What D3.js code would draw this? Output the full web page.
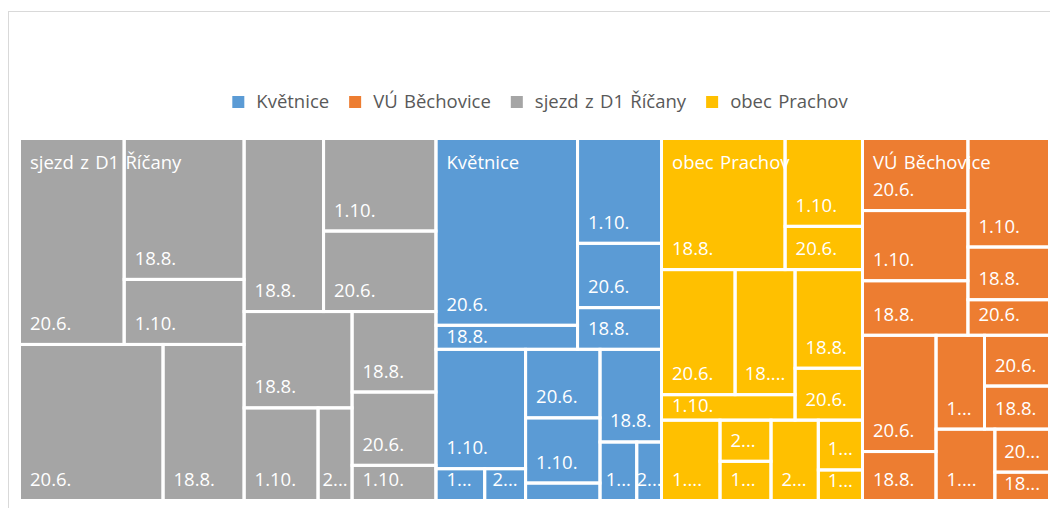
<!DOCTYPE html>
<html>
<head>
<meta charset="utf-8">
<script src="https://cdn.jsdelivr.net/npm/d3@7"></script>
<style>
  body { margin: 0; background: #fff; }
  svg { display: block; font-family: "Open Sans", "Noto Sans", sans-serif; }
</style>
</head>
<body>
<svg id="chart" width="1050" height="508"></svg>
<script>
// Sampling sites (top level of the treemap) and their colours
const locations = ["sjezd z D1 Říčany", "Květnice", "obec Prachov", "VÚ Běchovice"];
const locationColors = ["#A5A5A5", "#5B9BD5", "#FFC000", "#ED7D31"];
const legendItems = ["Květnice", "VÚ Běchovice", "sjezd z D1 Říčany", "obec Prachov"];

// Records per site: [taxon, sampling date, count]
const ricany = [
  ["druh 1", "20.6.", 431], ["druh 1", "18.8.", 338], ["druh 1", "1.10.", 156],
  ["druh 2", "20.6.", 448], ["druh 2", "18.8.", 253],
  ["druh 3", "18.8.", 275], ["druh 3", "1.10.", 208], ["druh 3", "20.6.", 181],
  ["druh 4", "18.8.", 208], ["druh 4", "1.10.", 137], ["druh 4", "20.6.", 63],
  ["druh 5", "18.8.", 135], ["druh 5", "20.6.", 123], ["druh 5", "1.10.", 59]
];
const kvetnice = [
  ["druh 1", "20.6.", 529], ["druh 1", "18.8.", 68],
  ["druh 2", "1.10.", 176], ["druh 2", "20.6.", 108], ["druh 2", "18.8.", 70],
  ["druh 3", "1.10.", 214], ["druh 3", "18.8.", 31], ["druh 3", "20.6.", 26],
  ["druh 4", "20.6.", 102], ["druh 4", "1.10.", 97], ["druh 4", "18.8.", 26],
  ["druh 5", "18.8.", 114], ["druh 5", "1.10.", 43], ["druh 5", "20.6.", 29]
];
const prachov = [
  ["druh 1", "18.8.", 324], ["druh 1", "1.10.", 136], ["druh 1", "20.6.", 67],
  ["druh 2", "20.6.", 184], ["druh 2", "18.8.", 150], ["druh 2", "1.10.", 68],
  ["druh 3", "18.8.", 133], ["druh 3", "20.6.", 70],
  ["druh 4", "1.10.", 94], ["druh 4", "20.6.", 42], ["druh 4", "18.8.", 40],
  ["druh 5", "20.6.", 76], ["druh 5", "18.8.", 44], ["druh 5", "1.10.", 27]
];
const bechovice = [
  ["druh 1", "20.6.", 152], ["druh 1", "1.10.", 148], ["druh 1", "18.8.", 115],
  ["druh 2", "1.10.", 177], ["druh 2", "18.8.", 86], ["druh 2", "20.6.", 58],
  ["druh 3", "20.6.", 171], ["druh 3", "18.8.", 72],
  ["druh 4", "1.10.", 91], ["druh 4", "20.6.", 66], ["druh 4", "18.8.", 56],
  ["druh 5", "1.10.", 84], ["druh 5", "20.6.", 47], ["druh 5", "18.8.", 31]
];
const siteRecords = [ricany, kvetnice, prachov, bechovice];

// ---- layout constants ----
const W = 1050, H = 508;
const area = { x: 19.5, y: 138.5, w: 1030, h: 362 };
const GAP = 3;
const FONT = 18.5;
const TARGET_RATIO = 0.79;   // preferred width/height of a tile
const LABEL_PAD = 16.2;      // horizontal room kept around a full date label
const CUT_ROOM = 30.25;      // room kept for the ellipsis when a label is shortened

const svg = d3.select("#chart");

// chart frame
svg.append("rect")
  .attr("x", 8.5).attr("y", 11.5).attr("width", W + 20).attr("height", H + 20)
  .attr("fill", "#fff").attr("stroke", "#D9D9D9").attr("stroke-width", 1);

// ---- hierarchy ----
const rootData = {
  name: "root",
  children: locations.map((loc, i) => ({
    name: loc,
    color: locationColors[i],
    children: Array.from(d3.group(siteRecords[i], r => r[0]), ([taxon, rows]) => ({
      name: taxon,
      children: rows.map(r => ({ name: r[1], value: r[2] }))
    }))
  }))
};

// Squarified tiling that aims for a fixed width/height ratio for every tile;
// rows run along the shorter side of the remaining rectangle.
function tileSquarifiedTarget(parent, x0, y0, x1, y1) {
  const nodes = parent.children;
  let value = parent.value, i0 = 0;
  while (i0 < nodes.length) {
    const dx = x1 - x0, dy = y1 - y0;
    const across = dx < dy;
    const side = across ? dx : dy;
    const span = across ? dy : dx;
    const worst = (sum, i1) => {
      const thick = span * sum / value;
      let w = 0;
      for (let i = i0; i < i1; i++) {
        const len = side * nodes[i].value / sum;
        const r = across ? len / thick : thick / len;
        w = Math.max(w, r / TARGET_RATIO, TARGET_RATIO / r);
      }
      return w;
    };
    let i1 = i0 + 1, sum = nodes[i0].value, best = worst(sum, i1);
    while (i1 < nodes.length) {
      const s2 = sum + nodes[i1].value;
      const w2 = worst(s2, i1 + 1);
      if (w2 > best) break;
      best = w2; sum = s2; i1++;
    }
    const row = { value: sum, children: nodes.slice(i0, i1) };
    if (across) d3.treemapDice(row, x0, y0, x1, value ? (y0 += dy * sum / value) : y1);
    else d3.treemapSlice(row, x0, y0, value ? (x0 += dx * sum / value) : x1, y1);
    value -= sum; i0 = i1;
  }
}

const root = d3.hierarchy(rootData)
  .sum(d => d.value || 0)
  .sort((a, b) => b.value - a.value);

d3.treemap().tile(tileSquarifiedTarget).size([area.w, area.h])(root);

const xs = d3.scaleLinear().domain([0, area.w]).range([area.x, area.x + area.w]);
const ys = d3.scaleLinear().domain([0, area.h]).range([area.y, area.y + area.h]);

const leaves = root.leaves();
const colorOf = d => d.ancestors().find(a => a.depth === 1).data.color;

const g = svg.append("g");

// tile fills
g.selectAll("rect.tile").data(leaves).join("rect")
  .attr("class", "tile")
  .attr("x", d => xs(d.x0)).attr("y", d => ys(d.y0))
  .attr("width", d => xs(d.x1) - xs(d.x0)).attr("height", d => ys(d.y1) - ys(d.y0))
  .attr("fill", colorOf);

// site names in the top-left corner of each site block
const sites = root.children;
g.selectAll("text.site").data(sites).join("text")
  .attr("class", "site")
  .attr("x", d => xs(d.x0) + GAP / 2 + 9)
  .attr("y", d => ys(d.y0) + GAP / 2 + 29)
  .attr("fill", "#fff").attr("font-size", FONT).attr("word-spacing", 1.5)
  .text(d => d.data.name);

// white separators drawn over the fills and names
g.selectAll("rect.sep").data(leaves).join("rect")
  .attr("class", "sep")
  .attr("x", d => xs(d.x0)).attr("y", d => ys(d.y0))
  .attr("width", d => xs(d.x1) - xs(d.x0)).attr("height", d => ys(d.y1) - ys(d.y0))
  .attr("fill", "none").attr("stroke", "#fff").attr("stroke-width", GAP);

// date labels at the bottom-left of each tile, shortened with "..." when narrow
const labels = g.selectAll("text.date").data(leaves.filter(d => ys(d.y1) - ys(d.y0) - GAP >= 18))
  .join("text")
  .attr("class", "date")
  .attr("fill", "#fff").attr("font-size", FONT);

labels.each(function (d) {
  const t = d3.select(this);
  const left = xs(d.x0) + GAP / 2, right = xs(d.x1) - GAP / 2;
  const top = ys(d.y0) + GAP / 2, bottom = ys(d.y1) - GAP / 2;
  const inner = right - left;
  const full = d.data.name;
  t.text(full);
  if (this.getComputedTextLength() > inner - LABEL_PAD) {
    let n = full.length - 1;
    for (; n > 1; n--) {
      t.text(full.slice(0, n));
      if (this.getComputedTextLength() <= inner - CUT_ROOM) break;
    }
    t.text(full.slice(0, Math.max(1, n)) + "...");
  }
  const tw = this.getComputedTextLength();
  t.attr("x", left + Math.min(9, (inner - tw) / 2))
   .attr("y", Math.max(top + 16, bottom - 13));
});

// ---- legend ----
const legend = svg.append("g").attr("font-size", FONT).attr("fill", "#595959").attr("word-spacing", 1.5);
const items = legend.selectAll("g").data(legendItems).join("g");
items.append("rect").attr("width", 12).attr("height", 12).attr("y", -12)
  .attr("fill", d => locationColors[locations.indexOf(d)]);
items.append("text").attr("x", 24).attr("y", 0).text(d => d);
let cx = 0;
items.each(function () {
  d3.select(this).attr("transform", `translate(${cx},0)`);
  cx += 24 + d3.select(this).select("text").node().getComputedTextLength() + 20;
});
const legendWidth = cx - 20;
legend.attr("transform", `translate(${540 - legendWidth / 2},108)`);
</script>
</body>
</html>
